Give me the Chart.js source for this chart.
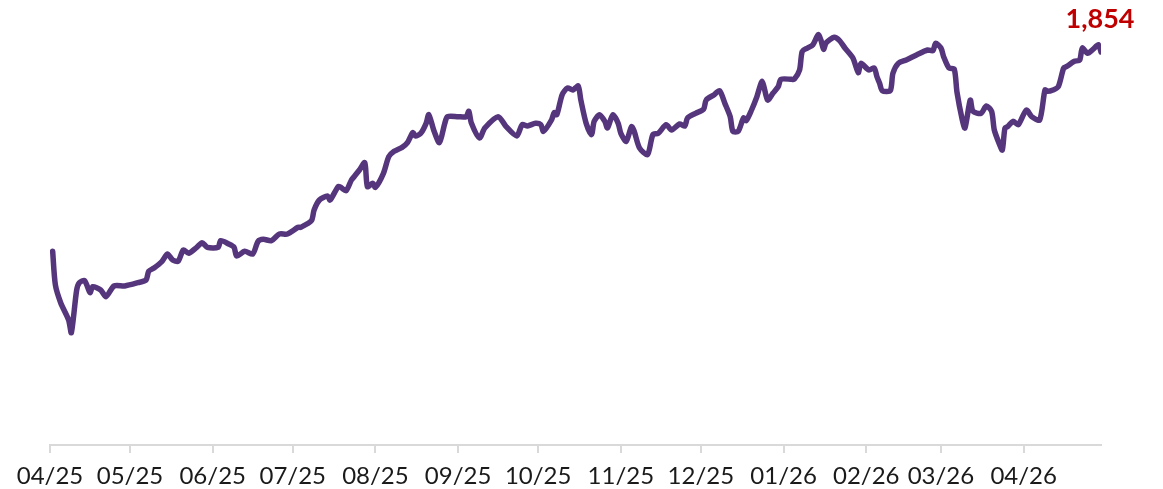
<!DOCTYPE html>
<html>
<head>
<meta charset="utf-8">
<script src="https://cdn.jsdelivr.net/npm/chart.js@4.4.1/dist/chart.umd.min.js"></script>
<style>
html, body { margin: 0; padding: 0; background: #ffffff; }
#wrap { width: 1163px; height: 489px; }
</style>
</head>
<body>
<div id="wrap"><canvas id="lineChart"></canvas></div>
<script>
// index level

let dates = [
"2025-04-02","2025-04-03","2025-04-05","2025-04-08","2025-04-09","2025-04-11","2025-04-12","2025-04-14","2025-04-16","2025-04-17",
"2025-04-20","2025-04-22","2025-04-25","2025-04-29","2025-05-04","2025-05-07","2025-05-08","2025-05-10","2025-05-13","2025-05-15",
"2025-05-17","2025-05-19","2025-05-21","2025-05-23","2025-05-26","2025-05-28","2025-05-30","2025-06-03","2025-06-04","2025-06-07",
"2025-06-09","2025-06-10","2025-06-13","2025-06-16","2025-06-18","2025-06-20","2025-06-23","2025-06-26","2025-06-29","2025-07-03",
"2025-07-04","2025-07-08","2025-07-09","2025-07-11","2025-07-14","2025-07-15","2025-07-18","2025-07-19","2025-07-21","2025-07-23",
"2025-07-24","2025-07-26","2025-07-28","2025-07-29","2025-07-31","2025-08-01","2025-08-04","2025-08-06","2025-08-08","2025-08-11",
"2025-08-13","2025-08-15","2025-08-16","2025-08-18","2025-08-20","2025-08-21","2025-08-23","2025-08-25","2025-08-27","2025-08-28",
"2025-09-01","2025-09-04","2025-09-05","2025-09-06","2025-09-09","2025-09-11","2025-09-16","2025-09-19","2025-09-23","2025-09-25",
"2025-09-27","2025-09-30","2025-10-02","2025-10-03","2025-10-06","2025-10-07","2025-10-08","2025-10-10","2025-10-12","2025-10-14",
"2025-10-16","2025-10-17","2025-10-19","2025-10-21","2025-10-22","2025-10-24","2025-10-26","2025-10-27","2025-10-29","2025-10-31",
"2025-11-01","2025-11-03","2025-11-05","2025-11-06","2025-11-08","2025-11-11","2025-11-13","2025-11-15","2025-11-18","2025-11-20",
"2025-11-23","2025-11-25","2025-11-26","2025-11-29","2025-12-02","2025-12-03","2025-12-06","2025-12-08","2025-12-10","2025-12-12",
"2025-12-13","2025-12-15","2025-12-17","2025-12-18","2025-12-20","2025-12-22","2025-12-24","2025-12-26","2025-12-28","2025-12-30",
"2025-12-31","2026-01-04","2026-01-05","2026-01-07","2026-01-08","2026-01-10","2026-01-12","2026-01-14","2026-01-15","2026-01-16",
"2026-01-17","2026-01-20","2026-01-22","2026-01-24","2026-01-27","2026-01-29","2026-01-30","2026-02-02","2026-02-04","2026-02-05",
"2026-02-06","2026-02-07","2026-02-10","2026-02-11","2026-02-13","2026-02-16","2026-02-20","2026-02-24","2026-02-26","2026-02-27",
"2026-03-01","2026-03-02","2026-03-04","2026-03-06","2026-03-07","2026-03-09","2026-03-10","2026-03-12","2026-03-13","2026-03-16",
"2026-03-18","2026-03-20","2026-03-21","2026-03-23","2026-03-24","2026-03-25","2026-03-26","2026-03-28","2026-03-30","2026-04-02",
"2026-04-04","2026-04-07","2026-04-09","2026-04-10","2026-04-12","2026-04-14","2026-04-16","2026-04-17","2026-04-20","2026-04-22",
"2026-04-23","2026-04-25","2026-04-27","2026-04-29","2026-04-30"
];

let values = [
1555,1505,1478,1452,1433,1497,1508,1511,1493,1502,
1497,1487,1503,1503,1508,1512,1525,1530,1540,1551,
1542,1540,1557,1552,1561,1568,1561,1561,1571,1566,
1561,1548,1555,1551,1570,1573,1571,1581,1581,1591,
1591,1601,1617,1632,1638,1632,1652,1651,1646,1662,
1667,1677,1688,1652,1657,1651,1672,1697,1705,1711,
1718,1733,1728,1732,1747,1760,1735,1718,1747,1757,
1757,1757,1765,1747,1725,1740,1757,1742,1728,1745,
1743,1747,1745,1735,1752,1763,1760,1790,1800,1797,
1803,1782,1747,1730,1750,1760,1750,1740,1760,1747,
1732,1720,1742,1735,1710,1700,1730,1732,1745,1737,
1746,1743,1755,1762,1768,1782,1790,1796,1777,1757,
1735,1735,1755,1751,1767,1787,1810,1782,1792,1802,
1813,1813,1813,1827,1855,1860,1865,1880,1872,1858,
1868,1876,1871,1860,1845,1823,1837,1827,1830,1817,
1807,1796,1796,1822,1837,1842,1850,1857,1856,1867,
1860,1847,1830,1828,1794,1752,1740,1782,1765,1762,
1773,1765,1737,1715,1707,1740,1742,1750,1745,1767,
1757,1752,1797,1795,1797,1802,1830,1832,1840,1842,
1860,1852,1858,1865,1854
];

let tickDates = ["2025-04-01","2025-05-01","2025-06-01","2025-07-01","2025-08-01","2025-09-01","2025-10-01",
"2025-11-01","2025-12-01","2026-01-01","2026-02-01","2026-03-01","2026-04-01"];

let tickLabels = ["04/25","05/25","06/25","07/25","08/25","09/25","10/25","11/25","12/25","01/26","02/26","03/26","04/26"];

let startDate = "2025-04-01";
let endDate = "2026-04-30";


function dayNo(d){
let p = d.split("-");
let s = startDate.split("-");
return Math.round((Date.UTC(+p[0], +p[1]-1, +p[2]) - Date.UTC(+s[0], +s[1]-1, +s[2])) / 86400000);
}


let points = dates.map((d, i) => ({ x: dayNo(d), y: values[i] }));
let tickPos = tickDates.map(dayNo);


// red label over the last point
let lastLabel = {
id: "lastLabel",
afterDatasetsDraw(chart){
let meta = chart.getDatasetMeta(0);
let pt = meta.data[meta.data.length - 1];
let ctx = chart.ctx;
ctx.save();
ctx.font = "bold 27px Lato";
ctx.fillStyle = "#c00000";
ctx.textAlign = "center";
ctx.textBaseline = "alphabetic";
ctx.fillText(values[values.length - 1].toLocaleString("en-US"), pt.x - 1, pt.y - 24);
ctx.restore();
}
};


new Chart(document.getElementById("lineChart"), {
type: "line",
data: {
datasets: [{
data: points,
borderColor: "#55357b",
borderWidth: 5.5,
pointRadius: 0,
tension: 0.25,
borderJoinStyle: "round",
borderCapStyle: "round",
fill: false
}]
},
options: {
responsive: true,
maintainAspectRatio: false,
animation: false,
layout: {
padding: { left: 50, right: 62, top: 0, bottom: -10 }
},
plugins: {
legend: { display: false },
tooltip: { enabled: false }
},
scales: {
x: {
type: "linear",
min: 0,
max: dayNo(endDate),
afterBuildTicks: axis => {
axis.ticks = tickPos.map(v => ({ value: v }));
},
grid: {
drawOnChartArea: false,
drawTicks: true,
tickLength: 8,
color: "#d9d9d9",
lineWidth: 2
},
border: {
display: true,
color: "#d9d9d9",
width: 2
},
ticks: {
autoSkip: false,
maxRotation: 0,
padding: 8,
color: "#1a1a1a",
font: { family: "Lato", size: 24, lineHeight: 1.25 },
callback: (v) => {
let i = tickPos.indexOf(v);
return i >= 0 ? tickLabels[i] : "";
}
}
},
y: {
display: false,
min: 1264.5,
max: 1932
}
}
},
plugins: [lastLabel]
});
</script>
</body>
</html>
